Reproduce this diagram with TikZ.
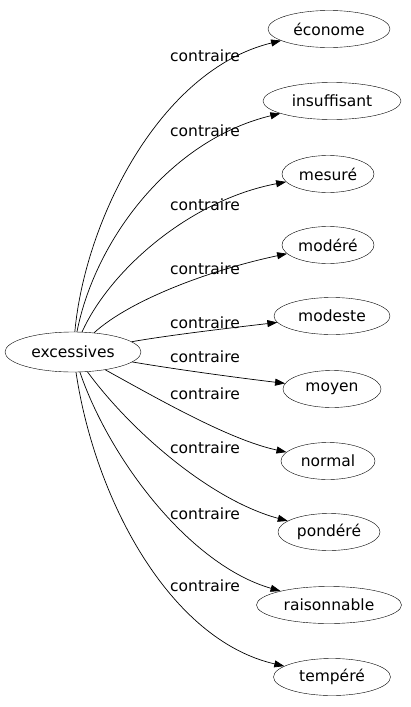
\documentclass[tikz,border=0pt]{standalone}
\usepackage{fontspec}
\setmainfont{DejaVu Sans}
\usetikzlibrary{shapes.geometric,arrows.meta}
\begin{document}
\begin{tikzpicture}[x=1pt,y=-1pt,
  word/.style={draw,ellipse,inner sep=0pt,font=\fontsize{15.5}{18}\selectfont},
  lbl/.style={font=\fontsize{15.5}{18}\selectfont,inner sep=0pt},
  edge/.style={draw,-{Triangle[length=10pt,width=7pt]},line width=0.7pt}]
\useasboundingbox (0,0) rectangle (411,707);
\node[word,minimum width=136pt,minimum height=40pt] (ex) at (73,352) {excessives};
\node[word,minimum width=122pt,minimum height=37pt] (t1) at (329,29) {économe};
\node[word,minimum width=138pt,minimum height=37pt] (t2) at (332,101) {insuffisant};
\node[word,minimum width=92pt,minimum height=37pt] (t3) at (328,174) {mesuré};
\node[word,minimum width=92pt,minimum height=37pt] (t4) at (328,245) {modéré};
\node[word,minimum width=116pt,minimum height=37pt] (t5) at (332,316) {modeste};
\node[word,minimum width=98pt,minimum height=37pt] (t6) at (332,389) {moyen};
\node[word,minimum width=94pt,minimum height=37pt] (t7) at (328,461) {normal};
\node[word,minimum width=102pt,minimum height=37pt] (t8) at (329,532) {pondéré};
\node[word,minimum width=145pt,minimum height=37pt] (t9) at (329,605) {raisonnable};
\node[word,minimum width=117pt,minimum height=37pt] (t10) at (332,677) {tempéré};
\node[lbl] (l1) at (205,56) {contraire};
\node[lbl] (l2) at (205,131) {contraire};
\node[lbl] (l3) at (205,205) {contraire};
\node[lbl] (l4) at (205,269) {contraire};
\node[lbl] (l5) at (205,323) {contraire};
\node[lbl] (l6) at (205,357) {contraire};
\node[lbl] (l7) at (205,394) {contraire};
\node[lbl] (l8) at (205,448) {contraire};
\node[lbl] (l9) at (205,514) {contraire};
\node[lbl] (l10) at (205,586) {contraire};
\path[edge] (ex) .. controls (85,220) and (160,70) .. (t1);
\path[edge] (ex) .. controls (95,240) and (170,140) .. (t2);
\path[edge] (ex) .. controls (110,270) and (190,200) .. (t3);
\path[edge] (ex) .. controls (130,300) and (210,270) .. (t4);
\path[edge] (ex) .. controls (170,335) and (230,328) .. (t5);
\path[edge] (ex) .. controls (180,370) and (240,378) .. (t6);
\path[edge] (ex) .. controls (160,400) and (230,440) .. (t7);
\path[edge] (ex) .. controls (130,430) and (210,500) .. (t8);
\path[edge] (ex) .. controls (110,460) and (190,565) .. (t9);
\path[edge] (ex) .. controls (95,500) and (170,640) .. (t10);
\end{tikzpicture}
\end{document}
